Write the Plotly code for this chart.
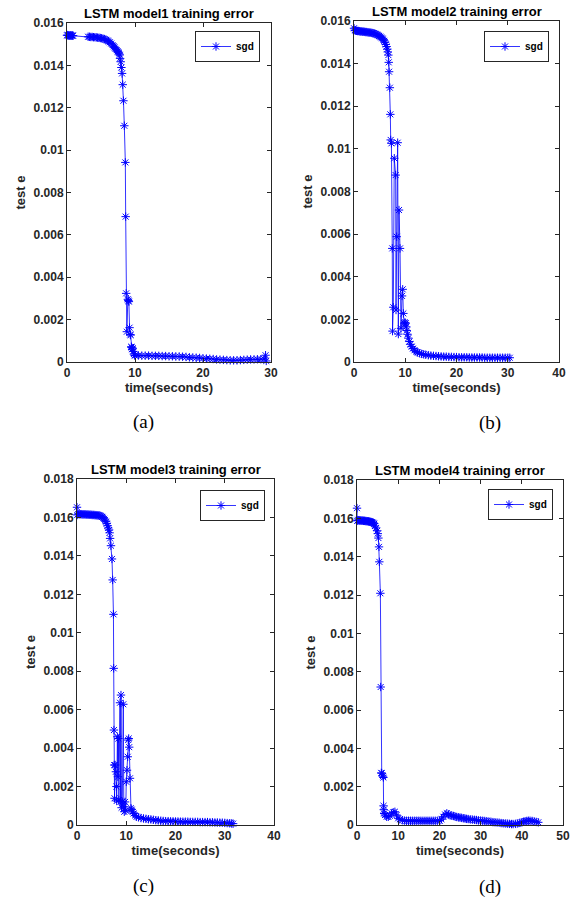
import plotly.graph_objects as go

# ---------------- data ----------------
time_a = [0.0, 0.1, 0.2, 0.3, 0.4, 0.5, 0.6, 0.7, 0.8, 0.9,
          3.1, 3.3, 3.5, 3.7, 3.9, 4.1, 4.3, 4.5, 4.7, 4.9, 5.1, 5.3, 5.5, 5.7, 5.9,
          6.1, 6.3, 6.5, 6.7, 6.85, 7.0, 7.15, 7.3, 7.45, 7.55, 7.65, 7.75, 7.8, 7.9,
          8.0, 8.1, 8.2, 8.3, 8.43, 8.58, 8.63, 8.7, 8.8, 8.95, 9.02, 9.1, 9.2, 9.3,
          9.36, 9.45, 9.5, 9.58, 9.66, 9.75, 9.85, 9.95,
          10.0, 10.5, 11.0, 11.5, 12.0, 12.5, 13.0, 13.5, 14.0, 14.5, 15.0, 15.5,
          16.0, 16.5, 17.0, 17.5, 18.0, 18.5, 19.0, 19.5, 20.0, 20.5, 21.0, 21.5,
          22.0, 22.5, 23.0, 23.5, 24.0, 24.5, 25.0, 25.5, 26.0, 26.5, 27.0, 27.5,
          28.0, 28.5, 29.0, 29.2, 29.3]
err_a = [0.01542, 0.01543, 0.01541, 0.01542, 0.01540, 0.01541, 0.01542, 0.01540, 0.01541, 0.01540,
         0.01535, 0.01535, 0.01534, 0.01534, 0.01533, 0.01533, 0.01532, 0.01531, 0.01530, 0.01529,
         0.01528, 0.01526, 0.01524, 0.01521, 0.01518, 0.01514, 0.01509, 0.01503, 0.01496, 0.01490,
         0.01484, 0.01478, 0.01472, 0.01466, 0.01462, 0.01457, 0.01450, 0.01433, 0.01417, 0.01390,
         0.01362, 0.01309, 0.01233, 0.01115, 0.00942, 0.00686, 0.00324, 0.00143, 0.00296, 0.00290,
         0.00285, 0.00162, 0.00130, 0.00127, 0.00072, 0.00069, 0.00060, 0.00065, 0.00050, 0.00038,
         0.00032,
         0.00030, 0.00031, 0.00030, 0.00030, 0.00030, 0.00029, 0.00029, 0.00029, 0.00028, 0.00028,
         0.00027, 0.00027, 0.00026, 0.00026, 0.00025, 0.00024, 0.00022, 0.00021, 0.00020, 0.00019,
         0.00017, 0.00016, 0.00015, 0.00014, 0.00012, 0.00011, 0.00010, 0.00009, 0.00008, 0.00008,
         0.00008, 0.00009, 0.00010, 0.00011, 0.00012, 0.00012, 0.00013, 0.00013, 0.00014, 0.00032,
         0.00005]

time_b = [0.0, 0.15, 0.3, 0.5, 0.7, 0.9, 1.1, 1.3, 1.5, 1.7, 1.9, 2.1, 2.3, 2.5, 2.7, 2.9,
          3.1, 3.3, 3.5, 3.7, 3.9, 4.1, 4.3, 4.5, 4.7, 4.9, 5.1, 5.3, 5.5, 5.7, 5.9, 6.05,
          6.2, 6.35, 6.5, 6.6, 6.7, 6.78, 6.85, 7.0, 7.09, 7.16, 7.3, 7.47, 7.52, 7.67, 7.86,
          8.13, 8.2, 8.33, 8.52, 8.65, 8.78, 8.98, 9.17, 9.37, 9.5, 9.63, 9.8, 9.95, 10.1,
          10.2, 10.3, 10.45, 10.6, 10.8, 11.0, 11.25, 11.5, 11.8, 12.1, 12.4, 12.8, 13.2,
          13.6, 14.0, 14.5, 15.0, 15.5, 16.0, 16.5, 17.0, 17.5, 18.0, 18.5, 19.0, 19.5,
          20.0, 20.5, 21.0, 21.5, 22.0, 22.5, 23.0, 23.5, 24.0, 24.5, 25.0, 25.5, 26.0,
          26.5, 27.0, 27.5, 28.0, 28.5, 29.0, 29.5, 30.0, 30.4]
err_b = [0.01566, 0.01557, 0.01555, 0.01554, 0.01553, 0.01553, 0.01552, 0.01551, 0.01551, 0.01550,
         0.01550, 0.01549, 0.01548, 0.01548, 0.01547, 0.01546, 0.01546, 0.01545, 0.01544, 0.01543,
         0.01542, 0.01540, 0.01538, 0.01536, 0.01533, 0.01530, 0.01527, 0.01523, 0.01519, 0.01514,
         0.01507, 0.01500, 0.01490, 0.01480, 0.01468, 0.01455, 0.01440, 0.01406, 0.01362, 0.01287,
         0.01162, 0.01042, 0.01026, 0.00533, 0.00145, 0.00257, 0.00956, 0.00877, 0.00244, 0.00588,
         0.01029, 0.00131, 0.00713, 0.00533, 0.00158, 0.00310, 0.00341, 0.00228, 0.00182, 0.00186,
         0.00182, 0.00165, 0.00148, 0.00130, 0.00112, 0.00096, 0.00083, 0.00072, 0.00063, 0.00055,
         0.00049, 0.00045, 0.00041, 0.00038, 0.00036, 0.00034, 0.00032, 0.00030, 0.00029, 0.00028,
         0.00027, 0.00026, 0.00025, 0.00025, 0.00024, 0.00024, 0.00023, 0.00023, 0.00022, 0.00022,
         0.00022, 0.00022, 0.00021, 0.00021, 0.00021, 0.00021, 0.00021, 0.00021, 0.00020, 0.00020,
         0.00020, 0.00020, 0.00020, 0.00020, 0.00020, 0.00020, 0.00020, 0.00020, 0.00020]

time_c = [0.0, 0.05, 0.25, 0.45, 0.65, 0.85, 1.05, 1.25, 1.45, 1.65, 1.85, 2.05, 2.25, 2.45,
          2.65, 2.85, 3.05, 3.25, 3.45, 3.65, 3.85, 4.05, 4.25, 4.45, 4.65, 4.9, 5.1, 5.3, 5.5,
          5.7, 5.9, 6.05, 6.2, 6.35, 6.5, 6.62, 6.72, 6.9, 7.1, 7.24, 7.4, 7.45, 7.5, 7.55, 7.62,
          7.75, 7.9, 8.0, 8.06, 8.2, 8.3, 8.4, 8.5, 8.73, 8.85, 8.93, 9.05, 9.2, 9.4, 9.5, 9.6,
          9.75, 9.9, 10.0, 10.15, 10.3, 10.4, 10.5, 10.6, 10.76, 10.96, 11.1, 11.3, 11.5, 11.8,
          12.1, 12.5, 13.0, 13.5, 14.0, 14.5, 15.0, 15.5, 16.0, 16.5, 17.0, 17.5, 18.0, 18.5,
          19.0, 19.5, 20.0, 20.5, 21.0, 21.5, 22.0, 22.5, 23.0, 23.5, 24.0, 24.5, 25.0, 25.5,
          26.0, 26.5, 27.0, 27.5, 28.0, 28.5, 29.0, 29.5, 30.0, 30.5, 31.0, 31.4, 31.7]
err_c = [0.01653, 0.01613, 0.01618, 0.01617, 0.01617, 0.01617, 0.01616, 0.01616, 0.01616, 0.01616,
         0.01615, 0.01615, 0.01615, 0.01614, 0.01614, 0.01614, 0.01613, 0.01613, 0.01613, 0.01612,
         0.01612, 0.01611, 0.01611, 0.01610, 0.01610, 0.01607, 0.01603, 0.01599, 0.01593, 0.01586,
         0.01578, 0.01568, 0.01557, 0.01545, 0.01535, 0.01520, 0.01491, 0.01453, 0.01384, 0.01275,
         0.01096, 0.00815, 0.00494, 0.00312, 0.00139, 0.00312, 0.00277, 0.00200, 0.00125, 0.00459,
         0.00251, 0.00450, 0.00130, 0.00636, 0.00121, 0.00676, 0.00090, 0.00121, 0.00628, 0.00095,
         0.00069, 0.00120, 0.00075, 0.00225, 0.00285, 0.00355, 0.00442, 0.00450, 0.00405, 0.00243,
         0.00087, 0.00080, 0.00068, 0.00060, 0.00050, 0.00043, 0.00040, 0.00036, 0.00034, 0.00032,
         0.00030, 0.00029, 0.00027, 0.00025, 0.00024, 0.00022, 0.00021, 0.00020, 0.00020, 0.00019,
         0.00019, 0.00018, 0.00018, 0.00017, 0.00017, 0.00017, 0.00017, 0.00016, 0.00016, 0.00016,
         0.00016, 0.00015, 0.00015, 0.00015, 0.00015, 0.00014, 0.00014, 0.00013, 0.00013, 0.00012,
         0.00012, 0.00011, 0.00010, 0.00009, 0.00008, 0.00007, 0.00005]

time_d = [0.0, 0.05, 0.2, 0.4, 0.6, 0.8, 1.0, 1.2, 1.4, 1.6, 1.8, 2.0, 2.2, 2.4, 2.6, 2.8,
          3.0, 3.2, 3.4, 3.6, 3.8, 4.0, 4.2, 4.37, 4.6, 4.9, 5.05, 5.2, 5.34, 5.42, 5.67, 5.75,
          5.9, 6.0, 6.3, 6.4, 6.45, 6.5, 6.6, 6.8, 7.2, 7.6, 8.0, 8.4, 8.8, 9.2, 9.6, 10.0,
          10.4, 11.0, 11.5, 12.0, 12.5, 13.0, 13.5, 14.0, 14.5, 15.0, 15.5, 16.0, 16.5, 17.0,
          17.5, 18.0, 18.5, 19.0, 19.5, 20.1, 20.5, 20.95, 21.4, 21.8, 22.2, 22.6, 23.0, 23.4,
          23.8, 24.2, 24.6, 25.0, 25.4, 25.8, 26.2, 26.6, 27.0, 27.5, 28.0, 28.5, 29.0, 29.5,
          30.0, 30.5, 31.0, 31.5, 32.0, 32.5, 33.0, 33.5, 34.0, 34.5, 35.0, 35.5, 36.0, 36.5,
          37.0, 37.5, 37.9, 38.5, 39.0, 39.5, 40.0, 40.4, 40.8, 41.2, 41.6, 42.0, 42.5, 43.0,
          43.5, 44.0]
err_d = [0.01653, 0.01587, 0.01590, 0.01590, 0.01589, 0.01589, 0.01588, 0.01588, 0.01588, 0.01587,
         0.01587, 0.01586, 0.01586, 0.01585, 0.01585, 0.01584, 0.01583, 0.01582, 0.01581, 0.01580,
         0.01578, 0.01576, 0.01572, 0.01560, 0.01550, 0.01535, 0.01520, 0.01497, 0.01451, 0.01373,
         0.01209, 0.00720, 0.00272, 0.00270, 0.00255, 0.00248, 0.00100, 0.00080, 0.00060, 0.00052,
         0.00043, 0.00043, 0.00048, 0.00061, 0.00066, 0.00069, 0.00052, 0.00035, 0.00030, 0.00025,
         0.00023, 0.00022, 0.00022, 0.00022, 0.00022, 0.00022, 0.00022, 0.00022, 0.00022, 0.00022,
         0.00022, 0.00022, 0.00022, 0.00022, 0.00022, 0.00022, 0.00022, 0.00022, 0.00030, 0.00043,
         0.00055, 0.00061, 0.00055, 0.00050, 0.00049, 0.00047, 0.00044, 0.00042, 0.00040, 0.00039,
         0.00037, 0.00035, 0.00034, 0.00032, 0.00031, 0.00029, 0.00028, 0.00027, 0.00026, 0.00024,
         0.00023, 0.00022, 0.00021, 0.00020, 0.00018, 0.00017, 0.00015, 0.00014, 0.00013, 0.00012,
         0.00010, 0.00009, 0.00008, 0.00007, 0.00006, 0.00005, 0.00005, 0.00006, 0.00008, 0.00011,
         0.00014, 0.00017, 0.00019, 0.00021, 0.00022, 0.00022, 0.00021, 0.00019, 0.00016, 0.00014]

titles = ["LSTM model1 training error", "LSTM model2 training error",
          "LSTM model3 training error", "LSTM model4 training error"]
captions = ["(a)", "(b)", "(c)", "(d)"]
series_name = "sgd"
x_title = "time(seconds)"
y_title = "test e"

xticks_a = [0, 10, 20, 30]
xticks_bc = [0, 10, 20, 30, 40]
xticks_d = [0, 10, 20, 30, 40, 50]
yticks_top = [0, 0.002, 0.004, 0.006, 0.008, 0.01, 0.012, 0.014, 0.016]
ylabels_top = ["0", "0.002", "0.004", "0.006", "0.008", "0.01", "0.012", "0.014", "0.016"]
yticks_bot = [0, 0.002, 0.004, 0.006, 0.008, 0.01, 0.012, 0.014, 0.016, 0.018]
ylabels_bot = ["0", "0.002", "0.004", "0.006", "0.008", "0.01", "0.012", "0.014", "0.016", "0.018"]

# ---------------- figure ----------------
W, H = 574, 899
BLUE = "#0000FF"
AX = "#262626"
FONT = "Liberation Sans"

panels = [
    dict(t=time_a, e=err_a, xd=[67, 271], yd=[23, 362], xr=[0, 30], xt=xticks_a,
         yr=[0, 0.016], yt=yticks_top, yl=ylabels_top, leg=(260, 31), cap=(143, 422)),
    dict(t=time_b, e=err_b, xd=[354, 559], yd=[21, 362], xr=[0, 40], xt=xticks_bc,
         yr=[0, 0.016], yt=yticks_top, yl=ylabels_top, leg=(549, 31), cap=(490, 423)),
    dict(t=time_c, e=err_c, xd=[77, 274], yd=[479, 825], xr=[0, 40], xt=xticks_bc,
         yr=[0, 0.018], yt=yticks_bot, yl=ylabels_bot, leg=(265, 490), cap=(143, 886)),
    dict(t=time_d, e=err_d, xd=[357, 563], yd=[480, 825], xr=[0, 50], xt=xticks_d,
         yr=[0, 0.018], yt=yticks_bot, yl=ylabels_bot, leg=(553, 489), cap=(490, 887)),
]

fig = go.Figure()
layout = dict(width=W, height=H, margin=dict(l=0, r=0, t=0, b=0, autoexpand=False),
              paper_bgcolor="white", plot_bgcolor="white", showlegend=True,
              font=dict(family=FONT, color=AX))
annotations = []

for i, p in enumerate(panels):
    k = "" if i == 0 else str(i + 1)
    legname = "legend" + k
    fig.add_trace(go.Scatter(
        x=p["t"], y=p["e"], mode="lines+markers", name=series_name,
        xaxis="x" + k, yaxis="y" + k, legend=legname, cliponaxis=False,
        line=dict(color=BLUE, width=0.8),
        marker=dict(symbol="asterisk-open", size=7, color=BLUE,
                    line=dict(color=BLUE, width=1)),
    ))
    xdom = [p["xd"][0] / W, p["xd"][1] / W]
    ydom = [1 - p["yd"][1] / H, 1 - p["yd"][0] / H]
    common = dict(showline=True, linecolor=AX, linewidth=1, mirror="allticks",
                  ticks="inside", ticklen=4, tickwidth=1, tickcolor=AX,
                  showgrid=False, zeroline=False, fixedrange=True, automargin=False,
                  tickfont=dict(family=FONT, size=12, color=AX, weight="bold"))
    layout["xaxis" + k] = dict(domain=xdom, anchor="y" + k, range=p["xr"],
                               tickvals=p["xt"], ticktext=[str(v) for v in p["xt"]],
                               title=dict(text=x_title, standoff=2,
                                          font=dict(family=FONT, size=13, color=AX, weight="bold")),
                               **common)
    layout["yaxis" + k] = dict(domain=ydom, anchor="x" + k, range=p["yr"],
                               tickvals=p["yt"], ticktext=p["yl"],
                               title=dict(text=y_title, standoff=5,
                                          font=dict(family=FONT, size=13, color=AX, weight="bold")),
                               **common)
    layout[legname] = dict(x=p["leg"][0] / W, y=1 - p["leg"][1] / H, xanchor="right",
                           yanchor="top", bgcolor="white", bordercolor=AX, borderwidth=1,
                           itemwidth=30, tracegroupgap=0,
                           font=dict(family=FONT, size=10, color="black", weight="bold"))
    annotations.append(dict(text=titles[i], xref="paper", yref="paper",
                            x=(xdom[0] + xdom[1]) / 2, y=ydom[1], xanchor="center",
                            yanchor="bottom", yshift=0, showarrow=False,
                            font=dict(family=FONT, size=13, color="black", weight="bold")))
    annotations.append(dict(text=captions[i], xref="paper", yref="paper",
                            x=p["cap"][0] / W, y=1 - p["cap"][1] / H, xanchor="center",
                            yanchor="middle", showarrow=False,
                            font=dict(family="Liberation Serif", size=19, color="black")))

layout["annotations"] = annotations
fig.update_layout(**layout)
fig.write_html("out.html", config={"displayModeBar": False},
               post_script="document.body.style.margin='0';document.body.style.padding='0';"
                           "document.body.style.overflow='hidden';")
